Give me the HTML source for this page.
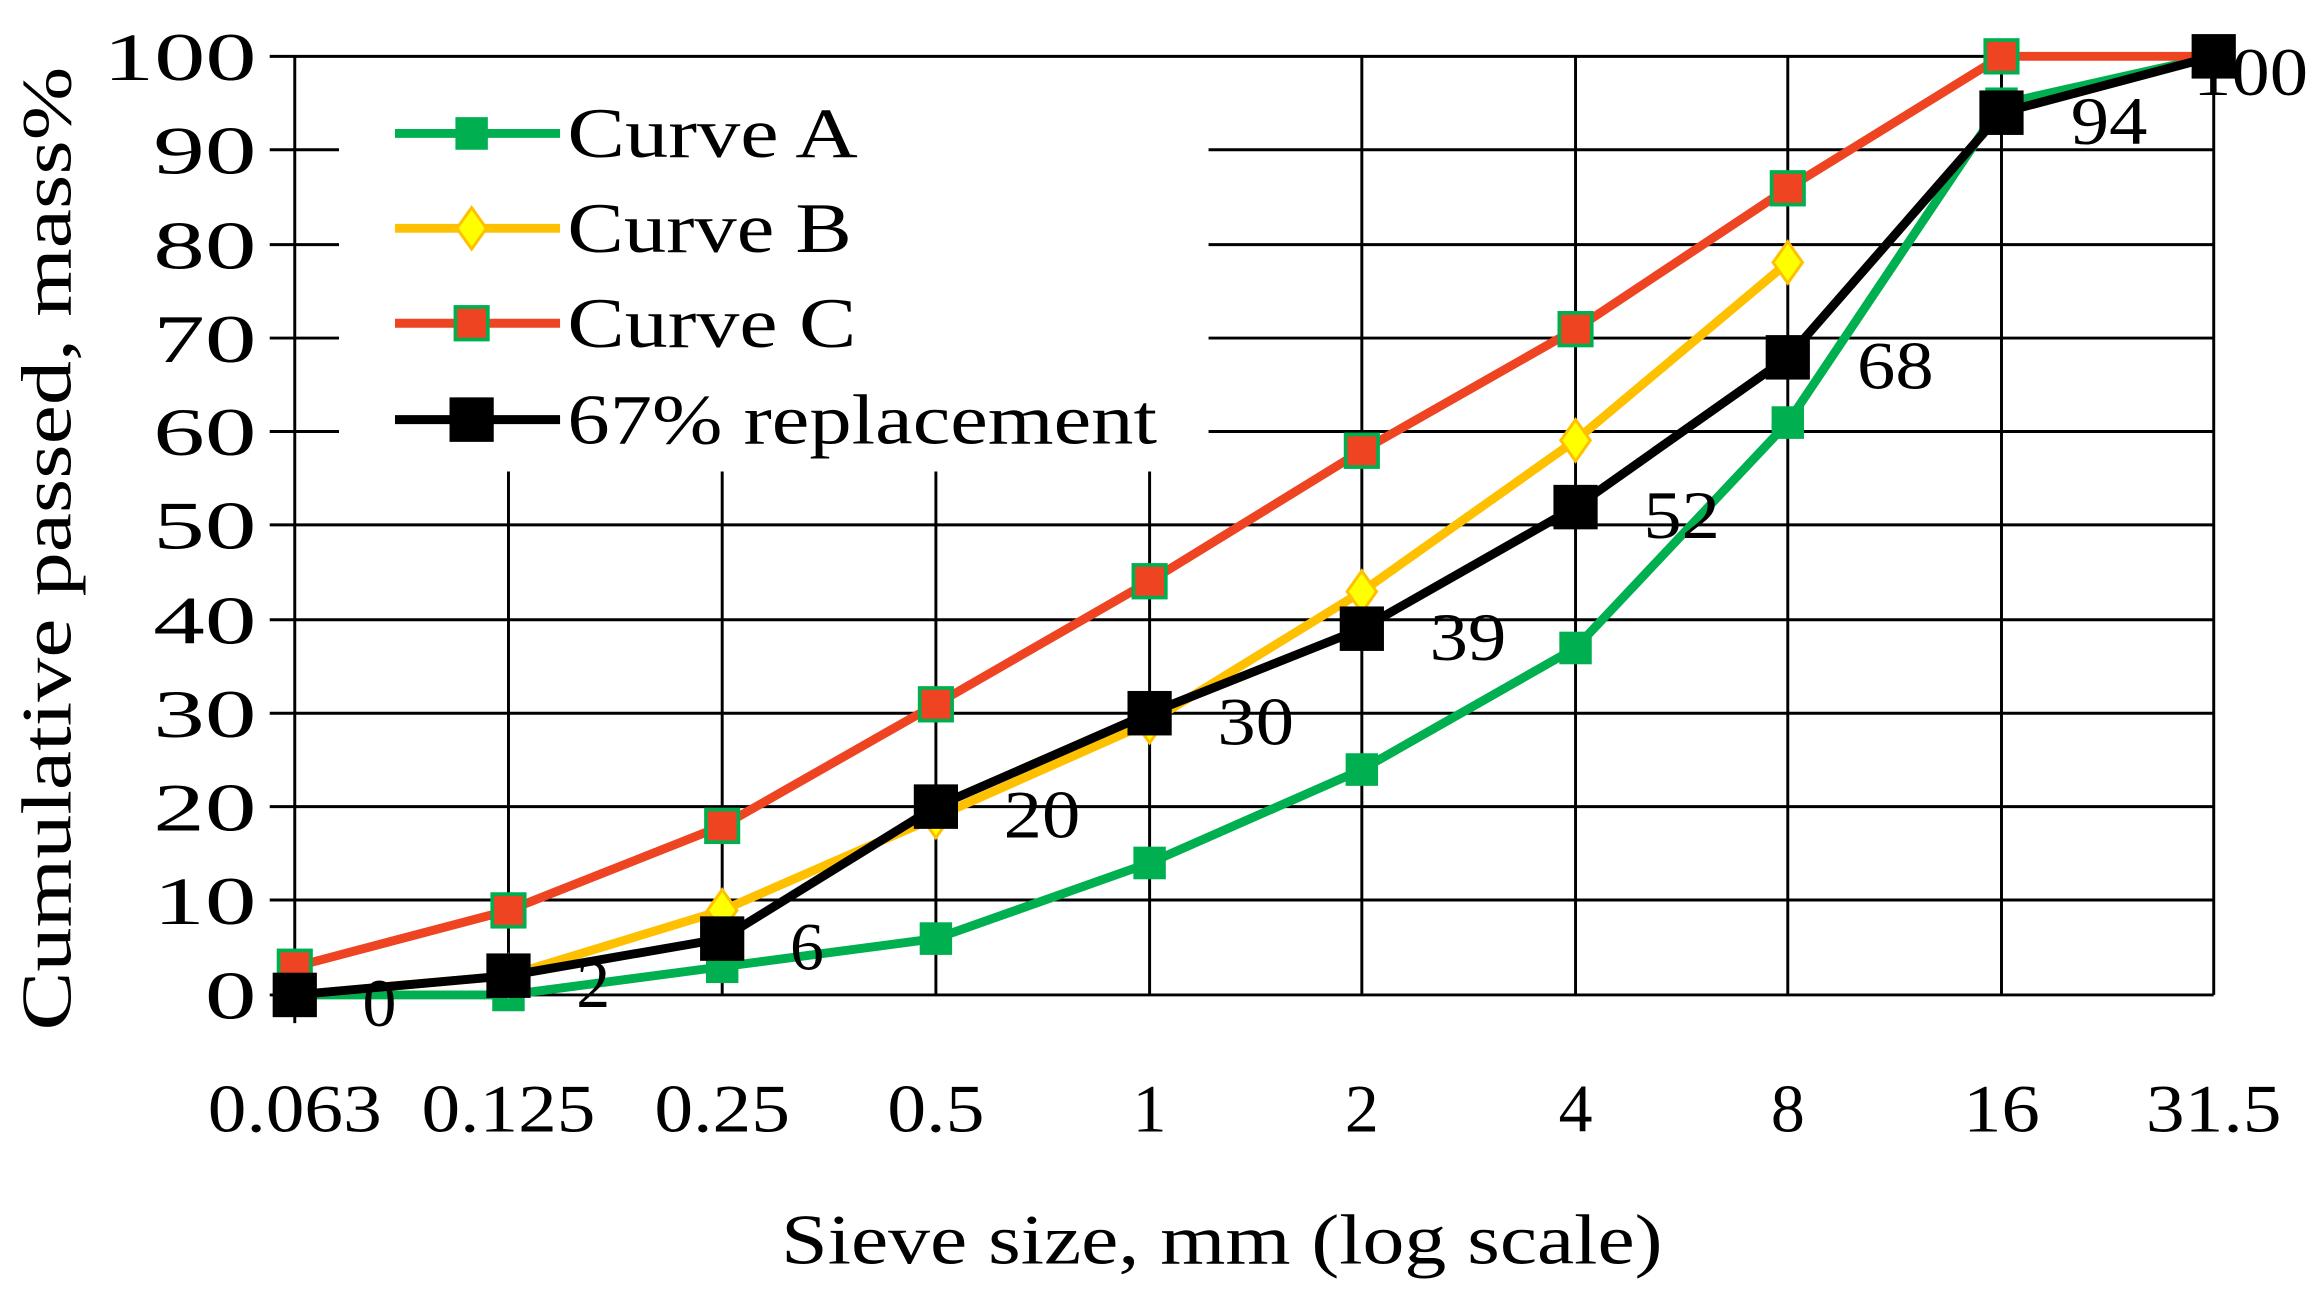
<!DOCTYPE html>
<html><head><meta charset="utf-8"><style>html,body{margin:0;padding:0;background:#fff}</style></head><body>
<svg width="2311" height="1290" viewBox="0 0 1568 870" preserveAspectRatio="none" xmlns="http://www.w3.org/2000/svg" font-family="Liberation Serif, serif">
<rect width="1568" height="870" fill="#fff"/>
<g stroke="#000" stroke-width="2">
<line x1="183" y1="38" x2="1502" y2="38"/>
<line x1="820" y1="101" x2="1502" y2="101"/>
<line x1="820" y1="165" x2="1502" y2="165"/>
<line x1="820" y1="228" x2="1502" y2="228"/>
<line x1="820" y1="291" x2="1502" y2="291"/>
<line x1="183" y1="354" x2="1502" y2="354"/>
<line x1="183" y1="418" x2="1502" y2="418"/>
<line x1="183" y1="481" x2="1502" y2="481"/>
<line x1="183" y1="544" x2="1502" y2="544"/>
<line x1="183" y1="607" x2="1502" y2="607"/>
<line x1="183" y1="671" x2="1502" y2="671"/>
<line x1="200" y1="38" x2="200" y2="690"/>
<line x1="345" y1="318" x2="345" y2="671"/>
<line x1="490" y1="318" x2="490" y2="671"/>
<line x1="635" y1="318" x2="635" y2="671"/>
<line x1="780" y1="318" x2="780" y2="671"/>
<line x1="924" y1="38" x2="924" y2="671"/>
<line x1="1069" y1="38" x2="1069" y2="671"/>
<line x1="1213" y1="38" x2="1213" y2="671"/>
<line x1="1358" y1="38" x2="1358" y2="671"/>
<line x1="1502" y1="38" x2="1502" y2="671"/>
<line x1="183" y1="101" x2="230" y2="101"/><line x1="183" y1="165" x2="230" y2="165"/><line x1="183" y1="228" x2="230" y2="228"/><line x1="183" y1="291" x2="230" y2="291"/>
</g>
<g font-size="46" text-anchor="end" fill="#000" lengthAdjust="spacingAndGlyphs">
<text x="174" y="54" textLength="104" lengthAdjust="spacingAndGlyphs">100</text><text x="174" y="117" textLength="70" lengthAdjust="spacingAndGlyphs">90</text><text x="174" y="181" textLength="70" lengthAdjust="spacingAndGlyphs">80</text><text x="174" y="244" textLength="70" lengthAdjust="spacingAndGlyphs">70</text><text x="174" y="307" textLength="70" lengthAdjust="spacingAndGlyphs">60</text><text x="174" y="370" textLength="70" lengthAdjust="spacingAndGlyphs">50</text><text x="174" y="434" textLength="70" lengthAdjust="spacingAndGlyphs">40</text><text x="174" y="497" textLength="70" lengthAdjust="spacingAndGlyphs">30</text><text x="174" y="560" textLength="70" lengthAdjust="spacingAndGlyphs">20</text><text x="174" y="623" textLength="70" lengthAdjust="spacingAndGlyphs">10</text><text x="174" y="687" textLength="35" lengthAdjust="spacingAndGlyphs">0</text>
</g>
<g font-size="46" text-anchor="middle">
<text x="200" y="763" textLength="118" lengthAdjust="spacingAndGlyphs">0.063</text><text x="345" y="763" textLength="118" lengthAdjust="spacingAndGlyphs">0.125</text><text x="490" y="763" textLength="92" lengthAdjust="spacingAndGlyphs">0.25</text><text x="635" y="763" textLength="66" lengthAdjust="spacingAndGlyphs">0.5</text><text x="780" y="763">1</text><text x="924" y="763">2</text><text x="1069" y="763">4</text><text x="1213" y="763">8</text><text x="1358" y="763" textLength="52" lengthAdjust="spacingAndGlyphs">16</text><text x="1502" y="763" textLength="92" lengthAdjust="spacingAndGlyphs">31.5</text>
<text x="829" y="852" font-size="48" textLength="598" lengthAdjust="spacingAndGlyphs">Sieve size, mm (log scale)</text>
<text transform="translate(48,370) rotate(-90)" font-size="48" textLength="650" lengthAdjust="spacingAndGlyphs">Cumulative passed, mass%</text>
</g>
<!-- Curve A -->
<polyline fill="none" stroke="#00b050" stroke-width="6" points="200,671 345,671 490,652 635,633 780,582 924,519 1069,437 1213,285 1358,70 1502,38"/>
<g fill="#00b050"><rect x="189" y="660" width="22" height="22"/><rect x="334" y="660" width="22" height="22"/><rect x="479" y="641" width="22" height="22"/><rect x="624" y="622" width="22" height="22"/><rect x="769" y="571" width="22" height="22"/><rect x="913" y="508" width="22" height="22"/><rect x="1058" y="426" width="22" height="22"/><rect x="1202" y="274" width="22" height="22"/><rect x="1347" y="59" width="22" height="22"/></g>
<!-- Curve B -->
<polyline fill="none" stroke="#ffc000" stroke-width="6" points="200,671 345,658 490,614 635,551 780,487 924,399 1069,297 1213,177"/>
<g fill="#ffff00" stroke="#ffc000" stroke-width="2"><path d="M345,644 l10,14 -10,14 -10,-14z"/><path d="M490,600 l10,14 -10,14 -10,-14z"/><path d="M635,537 l10,14 -10,14 -10,-14z"/><path d="M780,473 l10,14 -10,14 -10,-14z"/><path d="M924,385 l10,14 -10,14 -10,-14z"/><path d="M1069,283 l10,14 -10,14 -10,-14z"/><path d="M1213,163 l10,14 -10,14 -10,-14z"/></g>
<!-- Curve C -->
<polyline fill="none" stroke="#ee4422" stroke-width="6" points="200,652 345,614 490,557 635,475 780,392 924,304 1069,222 1213,127 1358,38 1502,38"/>
<g fill="#ee4422" stroke="#00b050" stroke-width="2.5"><rect x="189" y="641" width="22" height="22"/><rect x="334" y="603" width="22" height="22"/><rect x="479" y="546" width="22" height="22"/><rect x="624" y="464" width="22" height="22"/><rect x="769" y="381" width="22" height="22"/><rect x="913" y="293" width="22" height="22"/><rect x="1058" y="211" width="22" height="22"/><rect x="1202" y="116" width="22" height="22"/><rect x="1347" y="27" width="22" height="22"/></g>
<!-- Black -->
<polyline fill="none" stroke="#000" stroke-width="6" points="200,671 345,658 490,633 635,544 780,481 924,424 1069,342 1213,241 1358,76 1502,38"/>
<g fill="#000"><rect x="185" y="656" width="30" height="30"/><rect x="330" y="643" width="30" height="30"/><rect x="475" y="618" width="30" height="30"/><rect x="620" y="529" width="30" height="30"/><rect x="765" y="466" width="30" height="30"/><rect x="909" y="409" width="30" height="30"/><rect x="1054" y="327" width="30" height="30"/><rect x="1198" y="226" width="30" height="30"/><rect x="1343" y="61" width="30" height="30"/><rect x="1487" y="23" width="30" height="30"/></g>
<g font-size="46">
<text x="246" y="692">0</text><text x="391" y="679">2</text><text x="536" y="654">6</text><text x="681" y="565" textLength="52" lengthAdjust="spacingAndGlyphs">20</text><text x="826" y="502" textLength="52" lengthAdjust="spacingAndGlyphs">30</text><text x="970" y="445" textLength="52" lengthAdjust="spacingAndGlyphs">39</text><text x="1115" y="363" textLength="52" lengthAdjust="spacingAndGlyphs">52</text><text x="1260" y="262" textLength="52" lengthAdjust="spacingAndGlyphs">68</text><text x="1405" y="97" textLength="52" lengthAdjust="spacingAndGlyphs">94</text><text x="1488" y="64" textLength="78" lengthAdjust="spacingAndGlyphs">100</text>
</g>
<!-- Legend -->
<g stroke-width="6">
<line x1="268" y1="90" x2="380" y2="90" stroke="#00b050"/><rect x="309" y="79" width="22" height="22" fill="#00b050" stroke="none"/>
<line x1="268" y1="154" x2="380" y2="154" stroke="#ffc000"/><path d="M320,140 l10,14 -10,14 -10,-14z" fill="#ffff00" stroke="#ffc000" stroke-width="2"/>
<line x1="268" y1="218" x2="380" y2="218" stroke="#ee4422"/><rect x="309" y="207" width="22" height="22" fill="#ee4422" stroke="#00b050" stroke-width="2.5"/>
<line x1="268" y1="283" x2="380" y2="283" stroke="#000"/><rect x="305" y="268" width="30" height="30" fill="#000" stroke="none"/>
</g>
<g font-size="48"><text x="385" y="106" textLength="197" lengthAdjust="spacingAndGlyphs">Curve A</text><text x="385" y="170" textLength="193" lengthAdjust="spacingAndGlyphs">Curve B</text><text x="385" y="234" textLength="196" lengthAdjust="spacingAndGlyphs">Curve C</text><text x="385" y="299" textLength="400" lengthAdjust="spacingAndGlyphs">67% replacement</text></g>
</svg>
</body></html>
